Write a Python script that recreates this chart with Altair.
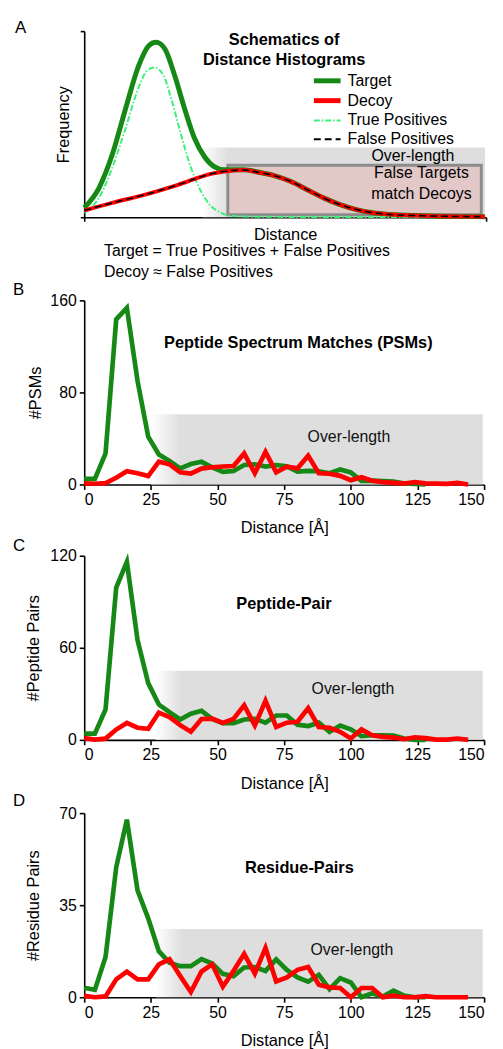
import altair as alt
import pandas as pd

FONT = "Liberation Sans"
GREEN = "#168816"
RED = "#ff0000"
LIGHT_GREEN = "#3df07a"
BAND_GRAY = "#dedede"
FS = 16

# ---------------- Panel A : schematic curves ----------------
a_target_x = [0, 5.5, 10.4, 15.4, 20.3, 24, 26.8, 30.1, 33.8, 37.5, 41.2, 44.9, 48.5, 52.2, 59.6, 64.8, 70.9, 77, 83.2, 89.3, 95.5, 101.6, 107.7, 113.9, 126.2, 138.5, 149.5]
a_target_y = [5.1, 15.7, 33.4, 58.2, 81.3, 92, 94, 90.5, 76, 58.2, 42.3, 32.5, 27.2, 25.5, 25.5, 24.3, 22.4, 19.3, 14.8, 10.4, 6.8, 4.1, 2.4, 1.5, 0.8, 0.4, 0.3]

a_decoy_x = [0, 10.4, 22.7, 35, 47.3, 59.6, 64.8, 70.9, 77, 83.2, 89.3, 95.5, 101.6, 107.7, 113.9, 126.2, 138.5, 149.5]
a_decoy_y = [3.6, 7.7, 12.1, 17.4, 23.3, 25.4, 24.2, 22.4, 19.3, 14.8, 10.4, 6.8, 4.1, 2.4, 1.5, 0.8, 0.4, 0.3]

a_tp_x = [0, 5.5, 10.4, 15.4, 20.3, 23.3, 26.2, 29.5, 32.5, 36.2, 39.9, 43.6, 47.3, 51, 55.9, 70, 100, 149.5]
a_tp_y = [2.4, 10.4, 26.3, 47.6, 69.8, 78.5, 80.5, 76.5, 63.6, 44, 26.3, 13.9, 6, 2.4, 0.6, 0.2, 0.1, 0.1]

a_fp_x = a_decoy_x
a_fp_y = a_decoy_y

legend_labels = ["Target", "Decoy", "True Positives", "False Positives"]

# ---------------- Panels B, C, D : histograms ----------------
bins_green = list(range(0, 129, 4))
bins_red = list(range(0, 145, 4))

psm_target = [4.9, 4.9, 27, 143.5, 153.5, 90, 41.5, 26, 20.5, 14, 17.8, 19.7, 14.9, 11, 11.7, 17, 17.5, 15.5, 16.9, 15.8, 11.2, 11.8, 11.5, 9.8, 13, 10.5, 3.2, 3.4, 2.9, 2.6, 0.9, 0.5, 0]
psm_decoy = [0.9, 0.6, 1.2, 5.8, 11.5, 9.8, 7.3, 19.8, 17.5, 10.6, 9.5, 13.8, 15, 15.6, 16, 27, 9.8, 28.3, 10.6, 15.5, 14, 25, 9.8, 9.3, 7.5, 3.7, 6.3, 3.2, 2, 1.4, 0.9, 2, 1, 0.8, 0.5, 1.4, 0]

pp_target = [4.1, 4.1, 19.8, 99.2, 116, 65, 37, 23, 18, 13.3, 17, 18.9, 13.7, 10.8, 10.8, 13.3, 13.7, 11.2, 15.9, 15.9, 9.9, 9, 11.2, 5.2, 9.4, 6.9, 2.4, 3, 3, 2.8, 0.9, 0, 0]
pp_decoy = [1.1, 0.2, 0.8, 6.7, 11, 7.9, 7.2, 17.8, 14.8, 9.6, 5.3, 13.6, 13.8, 11, 13.7, 22.5, 9.4, 25.5, 8.4, 11.2, 11.8, 20.6, 8.4, 7.9, 5.2, 0.9, 6.8, 3, 1.9, 1.5, 0.4, 1.7, 1.1, 0.2, 0.2, 0.9, 0]

rp_target = [3.6, 2.8, 15.3, 49.4, 67.5, 40.6, 30, 17.5, 13.1, 11.8, 11.8, 14.5, 12.8, 8.9, 8, 11.3, 11.5, 10, 14.4, 10.4, 7.5, 5.9, 8.5, 3.1, 7.25, 5.6, 0, 1.5, 0.25, 2.5, 0.6, 0, 0]
rp_decoy = [0.5, 0, 0.3, 6.8, 9.7, 6.8, 6.8, 12.5, 14.4, 8.1, 2, 9.8, 12.5, 4, 10, 16.5, 9, 18.75, 6, 7.5, 10.4, 11.5, 4.75, 3.75, 3.5, 0, 3.5, 3.5, 0, 0.6, 0, 0, 0.4, 0, 0, 0, 0]

x_ticks = [0, 25, 50, 75, 100, 125, 150]

W = 404
H = 186
AW = 406
AH = 188


def gradient(offset):
    return alt.LinearGradient(
        gradient="linear",
        x1=0, x2=1, y1=0, y2=0,
        stops=[
            alt.GradientStop(color="#ffffff", offset=0),
            alt.GradientStop(color=BAND_GRAY, offset=offset),
            alt.GradientStop(color=BAND_GRAY, offset=1),
        ],
    )


def letter(ch, dx, dy):
    return alt.Chart(pd.DataFrame({"t": [ch]})).mark_text(
        font=FONT, fontSize=17, align="left", baseline="middle", color="black"
    ).encode(text="t:N", x=alt.value(dx), y=alt.value(dy))


# ---------------- Panel A ----------------
ax_scale = alt.Scale(domain=[0, 150], nice=False, zero=False)
ay_scale = alt.Scale(domain=[0, 100], nice=False, zero=False)
AX = lambda f: alt.X(f, type="quantitative", scale=ax_scale,
                     axis=alt.Axis(values=[0, 150], labels=False, tickSize=4, title="Distance",
                                   titlePadding=5, grid=False))
AY = lambda f: alt.Y(f, type="quantitative", scale=ay_scale,
                     axis=alt.Axis(values=[0, 100], labels=False, tickSize=4, title="Frequency",
                                   titlePadding=8, grid=False))


def a_curve(xs, ys, color, width, dash=None):
    df = pd.DataFrame({"x": xs, "y": ys})
    kw = dict(color=color, strokeWidth=width, interpolate="monotone", strokeCap="butt")
    if dash is not None:
        kw["strokeDash"] = dash
    return alt.Chart(df).mark_line(**kw).encode(x=AX("x"), y=AY("y"))


band_a = alt.Chart(pd.DataFrame({"x": [44], "x2": [149.6], "y": [0], "y2": [37.5]})).mark_rect(
    fill=gradient(0.093)
).encode(x=AX("x"), x2="x2:Q", y=AY("y"), y2="y2:Q")

pink_a = alt.Chart(pd.DataFrame({"x": [53.6], "x2": [148.2], "y": [1.3], "y2": [27.9]})).mark_rect(
    fill="#e3c8c8", stroke="#8c8c8c", strokeWidth=3
).encode(x=AX("x"), x2="x2:Q", y=AY("y"), y2="y2:Q")

lg_rows = [50.2, 70.2, 90.2, 109.2]
lg_x0, lg_x1, lg_tx = 232, 259, 266


def lg_rule(row, color, width, dash=None):
    kw = dict(color=color, strokeWidth=width, strokeCap="butt")
    if dash is not None:
        kw["strokeDash"] = dash
    return alt.Chart(pd.DataFrame({"a": [0]})).mark_rule(**kw).encode(
        x=alt.value(lg_x0), x2=alt.value(lg_x1), y=alt.value(lg_rows[row]))


def lg_text(row):
    return alt.Chart(pd.DataFrame({"t": [legend_labels[row]]})).mark_text(
        font=FONT, fontSize=FS, align="left", baseline="middle", color="black"
    ).encode(text="t:N", x=alt.value(lg_tx), y=alt.value(lg_rows[row]))


def px_text(txt, x, y, bold=False, align="center", size=FS):
    return alt.Chart(pd.DataFrame({"t": [txt]})).mark_text(
        font=FONT, fontSize=size, fontWeight="bold" if bold else "normal",
        align=align, baseline="middle", color="black"
    ).encode(text="t:N", x=alt.value(x), y=alt.value(y))


panel_a = alt.layer(
    band_a,
    pink_a,
    a_curve(a_target_x, a_target_y, GREEN, 5),
    a_curve(a_tp_x, a_tp_y, LIGHT_GREEN, 2, [6, 2, 1.5, 2]),
    a_curve(a_decoy_x, a_decoy_y, RED, 4),
    a_curve(a_fp_x, a_fp_y, "black", 1.6, [7, 4]),
    px_text("Schematics of", 202, 8.5, bold=True, size=16.5),
    px_text("Distance Histograms", 202, 28.8, bold=True, size=16.5),
    px_text("Over-length", 332, 125.8),
    px_text("False Targets", 340.7, 143.5),
    px_text("match Decoys", 340.7, 164.5),
    lg_rule(0, GREEN, 5), lg_text(0),
    lg_rule(1, RED, 5), lg_text(1),
    lg_rule(2, LIGHT_GREEN, 2, [6, 2, 1.5, 2]), lg_text(2),
    lg_rule(3, "black", 2, [7, 4]), lg_text(3),
    px_text("Target = True Positives + False Positives", 20, 222.5, align="left"),
    px_text("Decoy \u2248 False Positives", 20, 243.5, align="left"),
    letter("A", -70, -3.5),
).properties(width=AW, height=AH)


# ---------------- Histogram panels ----------------
def hist_panel(target, decoy, ymax, yvals, ytitle, ytpad, band_top, band_x0, band_off,
               ol_pos, title, title_pos, ch, ch_dy):
    xs = alt.Scale(domain=[0, 150], nice=False, zero=False)
    ys = alt.Scale(domain=[0, ymax], nice=False, zero=False)
    X = lambda f: alt.X(f, type="quantitative", scale=xs,
                        axis=alt.Axis(values=x_ticks, title="Distance [\u00c5]", tickSize=5,
                                      labelPadding=2, titlePadding=13, grid=False))
    Y = lambda f: alt.Y(f, type="quantitative", scale=ys,
                        axis=alt.Axis(values=yvals, title=ytitle, tickSize=5, labelPadding=3,
                                      titlePadding=ytpad, grid=False))
    band = alt.Chart(pd.DataFrame({"x": [band_x0], "x2": [149.5], "y": [0], "y2": [band_top]})).mark_rect(
        fill=gradient(band_off)
    ).encode(x=X("x"), x2="x2:Q", y=Y("y"), y2="y2:Q")
    g = alt.Chart(pd.DataFrame({"x": bins_green[:len(target)], "y": target})).mark_line(
        color=GREEN, strokeWidth=4.7
    ).encode(x=X("x"), y=Y("y"))
    r = alt.Chart(pd.DataFrame({"x": bins_red[:len(decoy)], "y": decoy})).mark_line(
        color=RED, strokeWidth=4.7
    ).encode(x=X("x"), y=Y("y"))
    ol = alt.Chart(pd.DataFrame({"t": ["Over-length"], "x": [ol_pos[0]], "y": [ol_pos[1]]})).mark_text(
        font=FONT, fontSize=FS, color="#111111", baseline="middle"
    ).encode(text="t:N", x=X("x"), y=Y("y"))
    tt = alt.Chart(pd.DataFrame({"t": [title], "x": [title_pos[0]], "y": [title_pos[1]]})).mark_text(
        font=FONT, fontSize=16.5, fontWeight="bold", color="black", baseline="middle"
    ).encode(text="t:N", x=X("x"), y=Y("y"))
    return alt.layer(band, g, r, ol, tt, letter(ch, -72, ch_dy)).properties(width=W, height=H)


panel_b = hist_panel(psm_target, psm_decoy, 160, [0, 80, 160], "#PSMs", 6, 61, 25, 0.09,
                     (99.3, 41), "Peptide Spectrum Matches (PSMs)", (80.3, 122.7), "B", -10.8)
panel_c = hist_panel(pp_target, pp_decoy, 120, [0, 60, 120], "#Peptide Pairs", 8, 45, 26.8, 0.08,
                     (100.8, 33), "Peptide-Pair", (74.9, 88.4), "C", -10)
panel_d = hist_panel(rp_target, rp_decoy, 70, [0, 35, 70], "#Residue Pairs", 17, 25.9, 27, 0.08,
                     (100.4, 17.9), "Residue-Pairs", (80.7, 49.1), "D", -11.7)

chart = alt.vconcat(panel_a, panel_b, panel_c, panel_d, spacing=0).properties(
    padding={"left": 5, "top": 5, "right": 0, "bottom": 0}
).configure_view(stroke=None).configure_axis(
    domainColor="black", tickColor="black", labelColor="black", titleColor="black",
    domainWidth=1.6, tickWidth=1.6, labelFont=FONT, titleFont=FONT,
    labelFontSize=FS, titleFontSize=16.5, titleFontWeight="normal"
)

chart.save("out.html", embed_options={"renderer": "svg", "actions": False})
